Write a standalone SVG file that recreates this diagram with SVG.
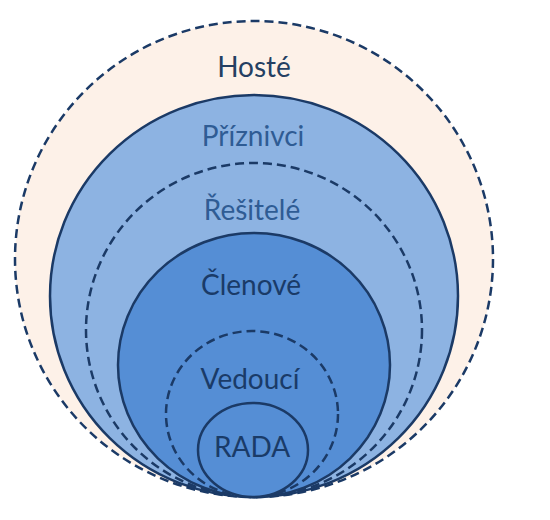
<svg xmlns="http://www.w3.org/2000/svg" width="550" height="520" viewBox="0 0 550 520">
  <style>
    .solid { stroke: #1B3A66; stroke-width: 2.5; }
    .dash { stroke: #1B3A66; stroke-width: 2.5; stroke-dasharray: 9 5; }
    .lbl { font-family: Lato, "Open Sans", "Liberation Sans", sans-serif; font-size: 28px; text-anchor: middle; }
    .dark { fill: #1A3B68; }
    .mid { fill: #2F5C94; }
    .host { fill: #243F62; }
  </style>
  <rect width="550" height="520" fill="#FFFFFF"/>
  <g id="hoste">
    <ellipse cx="254" cy="259" rx="239" ry="238" fill="#FDF1E8" class="dash"/>
    <text x="254" y="77" class="lbl host">Hosté</text>
  </g>
  <g id="priznivci">
    <ellipse cx="254" cy="296" rx="204" ry="201" fill="#8DB3E2" class="solid"/>
    <text x="253" y="146" class="lbl mid">Příznivci</text>
  </g>
  <g id="resitele">
    <ellipse cx="254" cy="330" rx="168" ry="167" fill="#8DB3E2" class="dash"/>
    <text x="252" y="220" class="lbl mid">Řešitelé</text>
  </g>
  <g id="clenove">
    <ellipse cx="254" cy="365" rx="136" ry="132" fill="#558ED5" class="solid"/>
    <text x="251" y="295" class="lbl dark">Členové</text>
  </g>
  <g id="vedouci">
    <ellipse cx="252" cy="414" rx="86" ry="83" fill="#558ED5" class="dash"/>
    <text x="250" y="389" class="lbl dark">Vedoucí</text>
  </g>
  <g id="rada">
    <ellipse cx="253" cy="450" rx="55" ry="47" fill="#558ED5" class="solid"/>
    <text x="252" y="457" class="lbl dark">RADA</text>
  </g>
</svg>
